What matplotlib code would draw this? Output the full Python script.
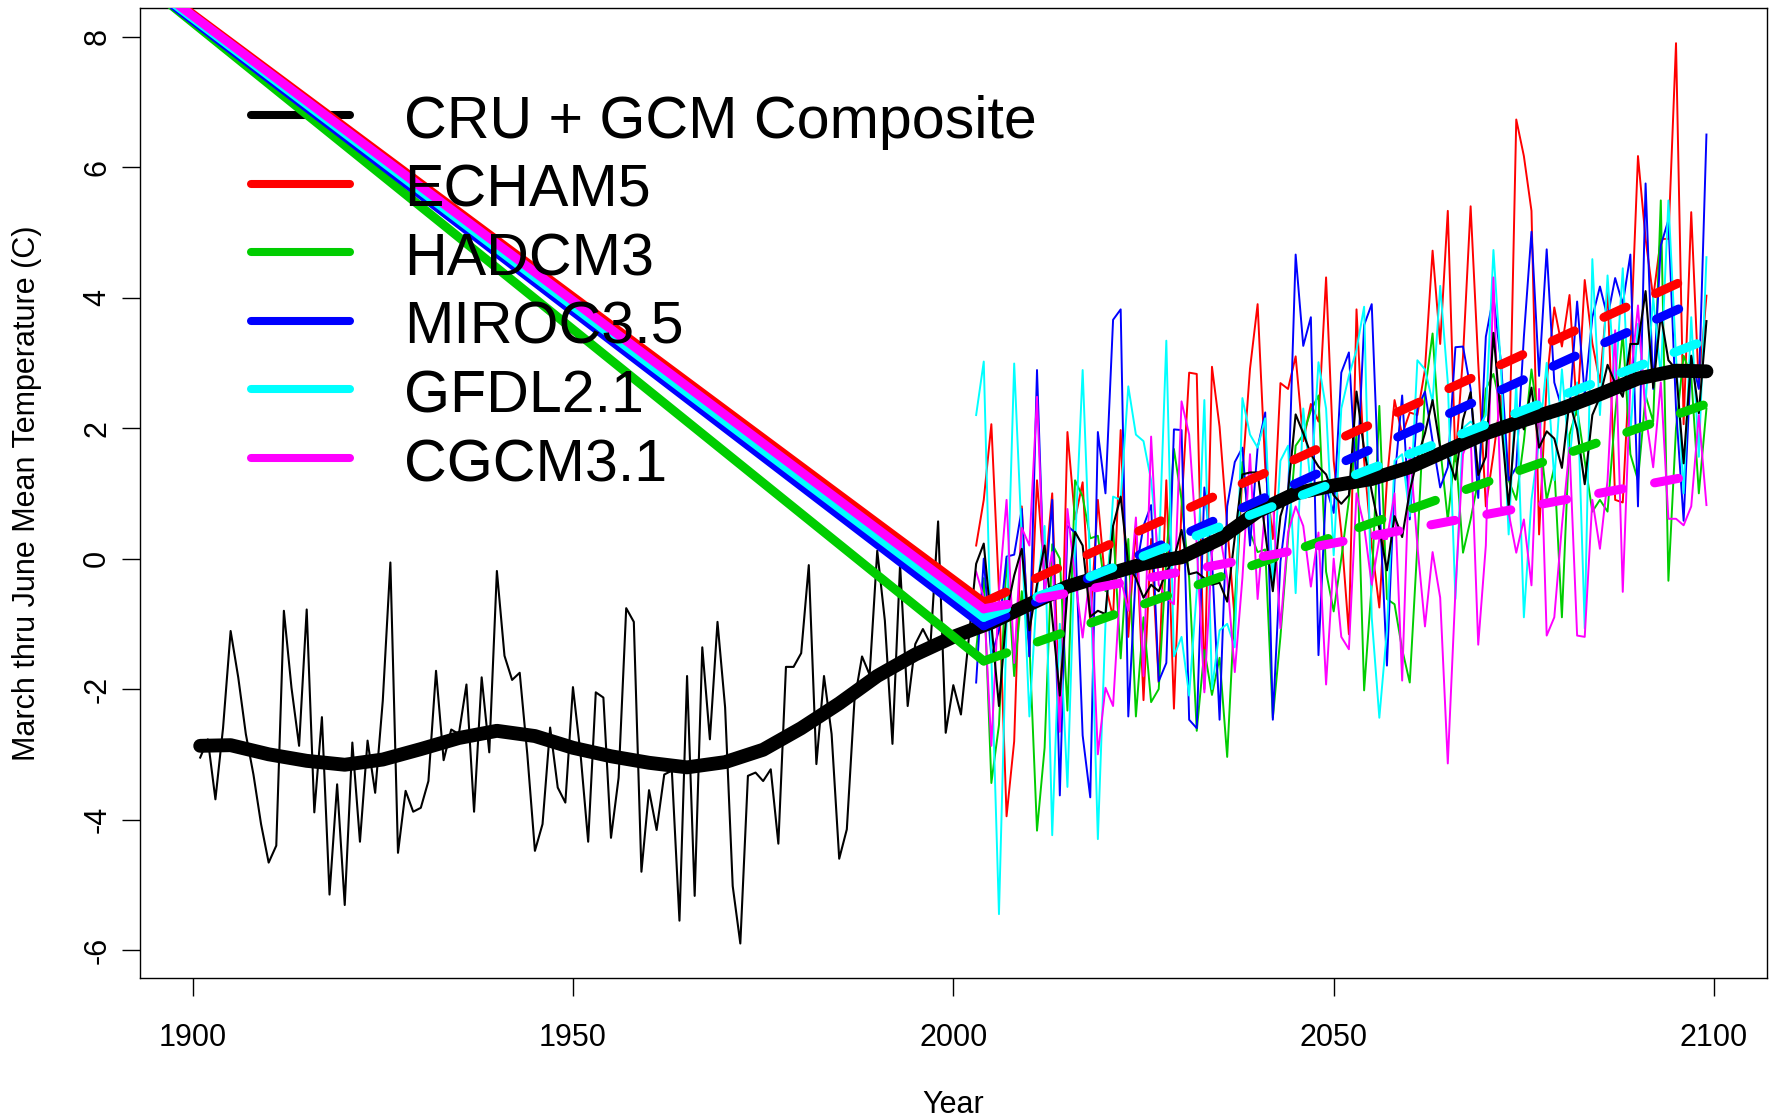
import numpy as np
import matplotlib
matplotlib.use('Agg')
import matplotlib.pyplot as plt

plt.rcParams['font.family'] = ['Liberation Sans', 'DejaVu Sans']
plt.rcParams['axes.unicode_minus'] = False

# CRU observed annual series, 1901-2004
cru_obs = [
    -3.05, -2.77, -3.69, -2.6, -1.11, -1.82, -2.69, -3.31, -4.07, -4.66,
    -4.40, -0.80, -1.98, -2.87, -0.78, -3.89, -2.43, -5.15, -3.46, -5.31,
    -2.82, -4.34, -2.79, -3.59, -2.18, -0.06, -4.51, -3.56, -3.88, -3.82,
    -3.41, -1.72, -3.09, -2.62, -2.69, -1.93, -3.88, -1.82, -2.97, -0.19,
    -1.49, -1.86, -1.75, -3.0, -4.48, -4.07, -2.59, -3.51, -3.74, -1.97,
    -3.0, -4.34, -2.05, -2.13, -4.28, -3.36, -0.76, -0.97, -4.80, -3.55,
    -4.16, -3.31, -3.25, -5.55, -1.80, -5.17, -1.36, -2.77, -0.97, -2.28,
    -5.02, -5.90, -3.33, -3.28, -3.41, -3.23, -4.37, -1.66, -1.66, -1.45,
    -0.10, -3.15, -1.80, -2.69, -4.60, -4.15, -2.18, -1.50, -1.78, 0.12,
    -0.95, -2.84, -0.09, -2.26, -1.31, -1.08, -1.31, 0.57, -2.67, -1.94,
    -2.39, -1.26, -0.08, 0.23,
]

# GCM composite annual series, 2005-2099
composite = [
    -1.0, -2.26, -0.83, -0.26, 0.15, -1.1, -0.4, 0.2, -0.9, -2.1,
    -0.5, 0.41, 0.2, -0.89, -0.8, -0.85, 0.5, 0.95, -0.1, -0.3,
    -0.6, -0.4, -0.5, -0.2, 0.0, 0.44, -0.24, -0.21, -0.3, -0.4,
    -0.37, -0.66, 0.33, 1.29, 1.32, 1.32, 0.4, -0.5, 0.65, 1.03,
    2.21, 1.92, 1.6, 1.41, 1.29, 0.97, 0.84, 0.97, 2.56, 1.67,
    1.03, 0.46, -0.18, 0.65, 0.33, 1.03, 1.54, 1.92, 2.43, 1.7,
    1.56, 1.21, 2.13, 2.55, 1.28, 1.56, 3.46, 2.13, 0.79, 2.27,
    1.98, 2.62, 1.70, 1.95, 1.84, 1.39, 2.41, 1.98, 1.14, 2.2,
    2.48, 2.97, 2.69, 2.48, 3.29, 3.29, 4.10, 2.62, 3.74, 3.04,
    2.9, 1.46, 3.11, 2.23, 3.64,
]

# smoothed composite
smooth_years = [1901, 1905, 1910, 1915, 1920, 1925, 1930, 1935, 1940, 1945,
                1950, 1955, 1960, 1965, 1970, 1975, 1980, 1985, 1990, 1995,
                2000, 2005, 2010, 2015, 2020, 2025, 2030, 2035, 2040, 2045,
                2050, 2055, 2060, 2065, 2070, 2075, 2080, 2085, 2090, 2095, 2099]
smooth_vals = [-2.87, -2.86, -3.0, -3.1, -3.16, -3.08, -2.92, -2.75, -2.64, -2.72,
               -2.9, -3.03, -3.13, -3.2, -3.12, -2.93, -2.6, -2.22, -1.8, -1.47,
               -1.2, -0.98, -0.7, -0.43, -0.25, -0.08, 0.02, 0.3, 0.72, 1.0,
               1.12, 1.22, 1.40, 1.66, 1.92, 2.12, 2.30, 2.52, 2.76, 2.88, 2.87]

# model runs, 2003-2099
echam5 = [
    0.2, 0.9, 2.06, -0.5, -3.95, -2.8, 0.8, -1.5, 1.2, -0.3,
    1.0, -2.65, 1.94, 0.6, 1.17, -1.0, 0.9, -0.4, -0.9, 1.97,
    -1.2, 0.5, -2.17, 0.3, -1.9, 1.2, -2.3, 0.8, 2.85, 2.83,
    -2.0, 2.94, 2.02, 0.5, -0.94, 1.3, 2.91, 3.90, 1.4, 0.30,
    2.69, 2.6, 3.10, 1.8, 2.37, 2.1, 4.31, 1.5, 0.4, -1.16,
    3.82, 1.5, 0.2, -0.75, 1.2, 2.43, 1.9, 2.24, 2.2, 2.9,
    4.72, 3.29, 5.33, 1.49, 3.1, 5.40, 3.0, 0.8, 1.6, 2.5,
    1.2, 6.73, 6.17, 5.33, 0.37, 2.7, 3.85, 3.25, 4.04, 2.2,
    4.27, 3.3, 2.7, 4.1, 0.9, 0.86, 3.2, 6.17, 4.9, 4.0,
    4.9, 4.9, 7.9, 2.06, 5.31, 2.62, 4.03,
]
hadcm3 = [
    -1.4, -0.3, -3.44, -2.55, 0.0, -1.8, -0.5, -1.3, -4.17, -2.9,
    0.22, 0.0, -2.33, 1.20, 0.95, 0.31, 0.35, -0.5, 0.5, -1.53,
    0.3, -2.42, -0.9, -2.20, -2.0, 0.0, 1.68, 0.9, -0.3, -2.64,
    -1.4, -2.09, -1.52, -3.04, -0.7, 1.48, 0.4, 0.1, 0.14, -2.44,
    -1.2, 0.3, 1.73, 1.9, 2.27, 2.50, -0.2, -0.81, 0.0, 0.9,
    1.9, -2.02, -0.4, 2.34, -0.62, -0.7, -1.39, -1.9, 0.2, 2.56,
    3.45, 1.7, 0.59, 1.7, 0.09, 0.6, 1.2, 2.6, 2.83, 2.3,
    1.2, 0.9, 1.8, 2.90, 2.0, 0.9, 1.4, -0.90, 1.9, 2.3,
    1.5, 0.72, 0.9, 0.72, 2.2, 3.46, 1.6, 1.2, 2.5, 2.1,
    5.49, -0.34, 2.0, 3.11, 2.8, 1.0, 2.30,
]
miroc35 = [
    -1.9, 0.0, -1.5, -1.1, 0.03, 0.06, 0.76, -1.5, 2.89, -0.6,
    0.9, -3.63, 0.5, 0.4, -2.71, -3.66, 1.94, 1.0, 3.66, 3.82,
    -2.42, -0.2, 0.5, 0.82, -1.88, -1.6, 1.98, 1.97, -2.47, -2.6,
    1.09, 0.0, -2.47, 0.8, 1.48, 1.7, 0.2, 1.7, 2.24, -2.47,
    -0.05, 0.9, 4.66, 3.26, 3.70, -1.48, 1.1, 0.7, 2.85, 3.16,
    1.1, 3.58, 3.90, 0.9, -1.64, 1.2, 2.5, 0.6, 2.3, 2.56,
    1.8, 1.09, 1.4, 3.24, 3.25, 2.6, 0.93, 3.4, 4.02, 3.0,
    1.2, 1.4, 3.4, 5.01, 2.8, 4.74, 2.7, 2.3, 2.3, 3.94,
    2.51, 3.7, 4.17, 3.7, 4.3, 3.9, 4.66, 0.80, 5.75, 2.6,
    4.8, 5.19, 2.3, 0.58, 3.1, 2.6, 6.50,
]
gfdl21 = [
    2.2, 3.02, -1.5, -5.45, -1.0, 2.99, 0.3, -2.42, -0.5, 0.5,
    -4.24, -1.0, -3.5, 0.2, 2.89, -0.2, -4.3, -1.0, 0.95, 0.9,
    2.64, 1.9, 1.8, 1.2, 0.0, 3.34, -1.5, -1.2, -2.1, -0.5,
    2.43, -2.0, -1.1, -1.0, -1.36, 2.46, 1.9, 1.70, 2.15, -0.4,
    1.5, 1.73, -0.53, 2.3, 1.1, 3.01, 2.3, 0.05, 2.3, 2.8,
    3.20, 3.86, -0.9, -2.44, -1.1, 1.5, 1.6, 0.65, 3.04, 2.9,
    2.4, 4.18, 2.7, -0.62, 2.0, 2.1, 2.0, 2.2, 4.73, 2.9,
    0.37, 2.7, -0.9, 0.9, 1.8, 3.0, 1.2, 2.9, 1.5, 2.7,
    -1.07, 4.59, 2.2, 4.34, 2.6, 4.45, 1.9, 3.6, 2.4, 4.0,
    2.8, 5.49, 3.1, 1.0, 3.7, 1.56, 4.62,
]
cgcm31 = [
    -0.2, -0.6, -2.87, -0.5, 0.9, -1.6, 0.47, 0.2, 2.48, -0.5,
    0.1, -2.65, 0.76, -0.3, -1.21, -0.2, -3.0, -1.98, -2.26, -0.3,
    -0.8, 0.63, -1.8, 1.87, -0.4, -0.6, -0.7, 2.41, 1.9, 0.2,
    -2.05, 0.1, 0.4, -0.3, -1.74, -0.3, 1.6, -0.62, 0.8, 0.9,
    -1.07, 0.4, 0.8, 0.5, -0.43, 0.4, -1.93, 0.0, -1.20, -1.39,
    1.0, 0.5, -0.4, 0.3, 0.3, 1.0, -1.87, 1.70, 0.2, -1.04,
    0.1, -0.6, -3.14, -0.5, 1.6, 1.91, -1.32, 0.2, 4.31, 0.8,
    0.7, 0.09, 0.6, -0.41, 2.6, -1.18, -0.9, 0.5, 1.7, -1.18,
    -1.2, 0.9, 0.15, 1.2, 3.5, -0.51, 2.7, 3.88, 2.2, 1.4,
    2.7, 0.61, 0.61, 0.51, 0.8, 2.2, 0.82,
]

model_names = ['ECHAM5', 'HADCM3', 'MIROC3.5', 'GFDL2.1', 'CGCM3.1']
model_runs = [echam5, hadcm3, miroc35, gfdl21, cgcm31]
model_colors = ['#FF0000', '#00CD00', '#0000FF', '#00FFFF', '#FF00FF']

# trend lines per model (value in 2004 and 2099) and the lead-in start value
trend_start = [-0.67, -1.57, -1.03, -0.90, -0.77]
trend_end = [4.42, 2.37, 4.02, 3.35, 1.31]
lead_in_start = [8.78, 8.69, 8.70, 8.73, 8.76]   # at year 1895

legend_labels = ['CRU + GCM Composite'] + model_names
legend_colors = ['black'] + model_colors

obs_years = np.arange(1901, 1901 + len(cru_obs))
comp_years = np.arange(2005, 2005 + len(composite))
model_years = np.arange(2003, 2003 + len(echam5))

fig = plt.figure(figsize=(17.76, 11.19), dpi=100)
ax = fig.add_axes([0.0788, 0.1257, 0.99476 - 0.0788, 0.9926 - 0.1257])

# thin annual lines
for vals, col in zip(model_runs, model_colors):
    ax.plot(model_years, vals, color=col, lw=1.4, zorder=2)
ax.plot(np.concatenate([obs_years, comp_years]), cru_obs + composite,
        color='black', lw=1.5, zorder=2.5)

# smoothed composite
ax.plot(smooth_years, smooth_vals, color='black', lw=10,
        solid_capstyle='round', solid_joinstyle='round', zorder=3)

# lead-in + dashed trend per model
for i, col in enumerate(model_colors):
    ax.plot([1895, 2004], [lead_in_start[i], trend_start[i]], color=col, lw=6.5,
            solid_capstyle='round', zorder=4 + i * 0.1)
    ax.plot([2004, 2099], [trend_start[i], trend_end[i]], color=col, lw=6.5,
            dashes=(2.7, 3.6), dash_capstyle='round', zorder=4 + i * 0.1)

# legend, drawn by hand to match R's placement
for i, (lab, col) in enumerate(zip(legend_labels, legend_colors)):
    y = 0.8899 - i * 0.07072
    ax.plot([0.0682, 0.1291], [y, y], transform=ax.transAxes, color=col,
            lw=5.8, solid_capstyle='round', zorder=1)
    ax.text(0.1623, y - 0.0237, lab, transform=ax.transAxes, fontsize=42.6,
            ha='left', va='baseline', zorder=10)

ax.set_xlim(1893.08, 2106.92)
ax.set_ylim(-6.434, 8.435)
ax.set_xticks([1900, 1950, 2000, 2050, 2100])
ax.set_yticks([-6, -4, -2, 0, 2, 4, 6, 8])
ax.tick_params(axis='both', direction='out', length=13, width=1.0, labelsize=22)
ax.tick_params(axis='x', pad=19.5)
ax.tick_params(axis='y', pad=7)
for lbl in ax.get_yticklabels():
    lbl.set_rotation(90)
    lbl.set_va('center')
for s in ax.spines.values():
    s.set_linewidth(1.0)

ax.set_xlabel('Year', fontsize=22)
ax.xaxis.set_label_coords(0.5, -0.1385)
ax.xaxis.label.set_va('baseline')
ax.set_ylabel('March thru June Mean Temperature (C)', fontsize=22)
ax.yaxis.set_label_coords(-0.0693, 0.5)
ax.yaxis.label.set_va('center')

fig.savefig('out.png', dpi=100)
